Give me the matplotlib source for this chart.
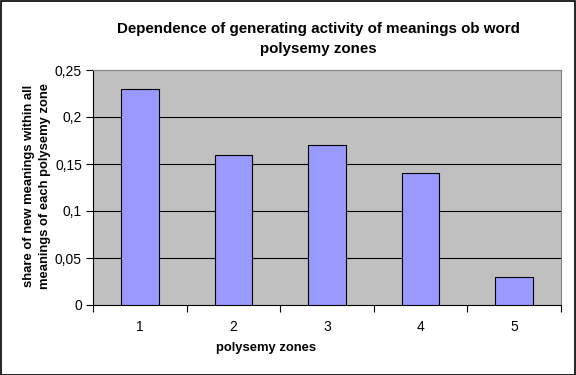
import matplotlib
matplotlib.use("Agg")
import matplotlib.pyplot as plt
from matplotlib.patches import Rectangle
import numpy as np

categories = ["1", "2", "3", "4", "5"]
values = [0.23, 0.16, 0.17, 0.14, 0.03]
yticks = [0, 0.05, 0.1, 0.15, 0.2, 0.25]
ytick_labels = ["0", "0,05", "0,1", "0,15", "0,2", "0,25"]

plt.rcParams['font.family'] = ['Liberation Sans', 'DejaVu Sans']

fig = plt.figure(figsize=(5.76, 3.75), dpi=100)
fig.patch.set_facecolor('white')
fig.add_artist(Rectangle((0.5/576, 0.5/375), 1 - 1.5/576, 1 - 1.5/375, transform=fig.transFigure,
                         fill=False, edgecolor='black', linewidth=1.2))

ax = fig.add_axes([93/576, 1 - 305/375, (561 - 93)/576, (305 - 70)/375])
ax.set_facecolor('#C0C0C0')
x = np.arange(1, len(categories) + 1)
ax.bar(x, values, width=0.4, color='#9999FF', edgecolor='black', linewidth=0.8, zorder=3)
ax.set_xlim(0.5, len(categories) + 0.5)
ax.set_ylim(0, 0.25)
ax.set_yticks(yticks)
ax.set_yticklabels(ytick_labels, fontsize=10)
for t in yticks[1:-1]:
    ax.axhline(t, color='black', linewidth=0.8, zorder=1)

ax.set_xticks(np.arange(0.5, len(categories) + 1, 1))
ax.set_xticklabels([])
ax.set_xticks(x, minor=True)
ax.set_xticklabels(categories, minor=True, fontsize=10)
ax.tick_params(axis='x', which='minor', length=0, pad=11)
ax.tick_params(axis='x', which='major', length=5, direction='out', width=0.8)
ax.tick_params(axis='y', length=5, direction='out', width=0.8, pad=3)

for side in ['top', 'right']:
    ax.spines[side].set_color('#808080')
ax.spines['left'].set_color('black')
ax.spines['bottom'].set_color('black')

ax.set_xlabel("polysemy zones", fontsize=9.4, fontweight='bold', va='center')
ax.xaxis.set_label_coords((266 - 93)/(561 - 93), -(348 - 305)/(305 - 70))
ax.set_ylabel("share of new meanings within all\nmeanings of each polysemy zone", fontsize=9.4, fontweight='bold',
              linespacing=1.4, ha='center', va='bottom')
ax.yaxis.set_label_coords(-(93 - 51)/(561 - 93), (305 - 186)/(305 - 70))

fig.text(318/576, 1 - 39/375, "Dependence of generating activity of meanings ob word\npolysemy zones",
         ha='center', va='center', fontsize=10.9, fontweight='bold', linespacing=1.6)

fig.savefig("out.png", dpi=100)
